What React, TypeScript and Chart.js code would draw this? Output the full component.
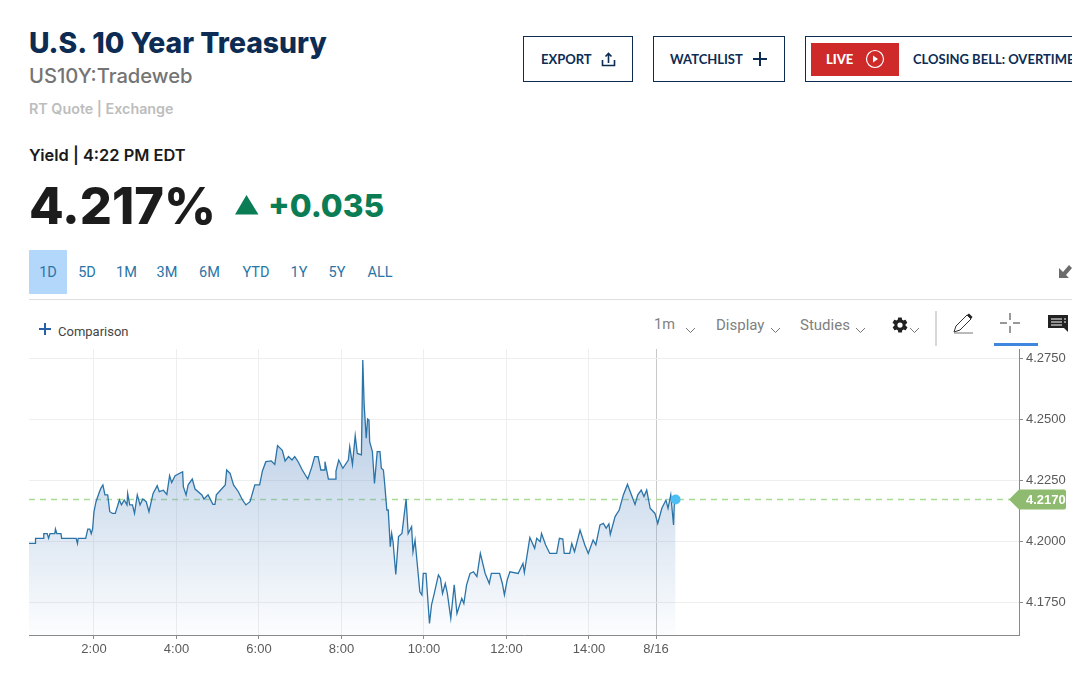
import React, { useEffect, useRef } from "react";
import { Chart, registerables } from "chart.js";

Chart.register(...registerables);

const minutes = [25,35,35,46,47,52,54,56,63,64,66,72,73,94,96,97,108,111,114,116,118,120,123,128,130,133,136,140,143,147,151,157,160,164,168,169,172,176,179,183,187,191,196,200,206,212,215,221,226,230,233,238,249,250,254,257,263,267,277,280,286,293,296,298,303,311,313,318,323,330,336,341,347,354,361,365,370,378,383,387,394,398,403,408,412,417,423,431,437,441,446,450,455,456,461,471,472,476,482,490,492,496,500,503,509,511,513,516,518,520,521,525,528,532,536,538,541,543,546,548,551,553,555,559,563,568,574,577,582,584,587,594,597,599,603,608,611,615,621,624,627,631,634,639,644,648,655,658,662,667,672,677,682,689,695,698,710,714,717,721,725,737,744,746,754,761,764,769,771,777,783,793,797,802,804,812,815,819,827,834,839,846,850,856,861,865,869,871,878,884,890,896,901,907,911,916,920,924,929,936,940,946,952,955,959,963,964,966];
const yields = [4.1990,4.1990,4.2011,4.2011,4.2030,4.2030,4.2011,4.2030,4.2030,4.2049,4.2030,4.2030,4.2011,4.2011,4.1990,4.2011,4.2011,4.2049,4.2049,4.2030,4.2049,4.2120,4.2161,4.2202,4.2216,4.2230,4.2189,4.2189,4.2120,4.2113,4.2113,4.2168,4.2148,4.2168,4.2148,4.2195,4.2148,4.2148,4.2113,4.2189,4.2148,4.2172,4.2161,4.2120,4.2195,4.2227,4.2202,4.2208,4.2191,4.2268,4.2240,4.2268,4.2284,4.2223,4.2189,4.2230,4.2254,4.2213,4.2189,4.2172,4.2189,4.2150,4.2150,4.2189,4.2205,4.2230,4.2291,4.2277,4.2230,4.2202,4.2168,4.2148,4.2161,4.2230,4.2230,4.2287,4.2325,4.2328,4.2314,4.2391,4.2372,4.2328,4.2346,4.2332,4.2346,4.2325,4.2291,4.2254,4.2305,4.2346,4.2346,4.2291,4.2291,4.2325,4.2254,4.2254,4.2287,4.2332,4.2298,4.2332,4.2387,4.2314,4.2432,4.2359,4.2353,4.2742,4.2558,4.2421,4.2500,4.2496,4.2407,4.2366,4.2236,4.2366,4.2366,4.2298,4.2291,4.2230,4.2127,4.2127,4.1977,4.2031,4.1997,4.1863,4.2018,4.2031,4.2172,4.2031,4.2059,4.1956,4.2004,4.1792,4.1779,4.1867,4.1867,4.1662,4.1738,4.1785,4.1861,4.1847,4.1785,4.1826,4.1785,4.1683,4.1820,4.1703,4.1765,4.1744,4.1820,4.1867,4.1874,4.1854,4.1949,4.1867,4.1826,4.1867,4.1867,4.1826,4.1779,4.1840,4.1874,4.1867,4.1908,4.1871,4.2014,4.1970,4.2011,4.1997,4.2031,4.1984,4.1949,4.1949,4.2011,4.2008,4.1949,4.1949,4.1990,4.1956,4.2045,4.1984,4.1949,4.2004,4.1984,4.2066,4.2072,4.2052,4.2070,4.2027,4.2100,4.2127,4.2189,4.2232,4.2195,4.2150,4.2189,4.2209,4.2182,4.2209,4.2134,4.2113,4.2072,4.2134,4.2168,4.2134,4.2189,4.2066,4.2148,4.2170];

const lastPrice = 4.217;
const xTickValues = [120, 240, 360, 480, 600, 720, 840, 937.5];
const xTickLabels = ["2:00", "4:00", "6:00", "8:00", "10:00", "12:00", "14:00", "8/16"];
const yTickValues = [4.175, 4.2, 4.225, 4.25, 4.275];
const rangeLabels = ["1D", "5D", "1M", "3M", "6M", "YTD", "1Y", "5Y", "ALL"];
const rangeCentres = [48, 87, 126.5, 167, 209.5, 256, 299, 337, 380];

const NAVY = "#0c2c54";
const uiFont = "Lato, 'Open Sans', sans-serif";
const wideFont = "Inter, 'Open Sans', sans-serif";

function T(p: { x: number; y: number; s: number; c: string; w?: number; f?: string; children: React.ReactNode; center?: boolean; ls?: number }) {
  return (
    <div style={{ position: "absolute", left: p.x, top: p.y, transform: p.center ? "translate(-50%,-50%)" : "translateY(-50%)", fontSize: p.s, color: p.c, fontWeight: p.w ?? 400, fontFamily: p.f ?? uiFont, whiteSpace: "nowrap", lineHeight: 1, letterSpacing: p.ls ?? 0 }}>
      {p.children}
    </div>
  );
}

function Box(p: { x: number; y: number; w: number; h: number; border?: string; bg?: string }) {
  return <div style={{ position: "absolute", left: p.x, top: p.y, width: p.w, height: p.h, boxSizing: "border-box", border: p.border, background: p.bg }} />;
}

function Icon(p: { x: number; y: number; w: number; h: number; children: React.ReactNode; vb?: string }) {
  return (
    <svg style={{ position: "absolute", left: p.x, top: p.y, overflow: "hidden" }} width={p.w} height={p.h} viewBox={p.vb ?? `0 0 ${p.w} ${p.h}`}>
      {p.children}
    </svg>
  );
}

const Chevron = ({ x, y }: { x: number; y: number }) => (
  <Icon x={x} y={y} w={11} h={7}>
    <path d="M1 1 L5.5 5.5 L10 1" fill="none" stroke="#777" strokeWidth="1" />
  </Icon>
);

const priceTag = {
  id: "priceTag",
  afterDraw(chart: any) {
    const { ctx, scales } = chart;
    const py = scales.y.getPixelForValue(lastPrice);
    const right = chart.chartArea.right;
    ctx.save();
    ctx.fillStyle = "#8fbb70";
    ctx.beginPath();
    const l = right - 10, r = right + 47;
    ctx.moveTo(l, py);
    ctx.lineTo(l + 10, py - 10);
    ctx.lineTo(r - 2, py - 10);
    ctx.quadraticCurveTo(r, py - 10, r, py - 8);
    ctx.lineTo(r, py + 8);
    ctx.quadraticCurveTo(r, py + 10, r - 2, py + 10);
    ctx.lineTo(l + 10, py + 10);
    ctx.closePath();
    ctx.fill();
    ctx.fillStyle = "#ffffff";
    ctx.font = "bold 13px 'Liberation Sans', Arial, sans-serif";
    ctx.textBaseline = "middle";
    ctx.textAlign = "left";
    ctx.fillText(lastPrice.toFixed(4), right + 7, py + 0.5);
    ctx.restore();
  },
};

export default function App() {
  const ref = useRef<HTMLCanvasElement | null>(null);

  useEffect(() => {
    document.body.style.margin = "0";
    const series = minutes.map((m, i) => ({ x: m, y: yields[i] }));
    const last = series[series.length - 1];
    const chart = new Chart(ref.current as HTMLCanvasElement, {
      type: "line",
      data: {
        datasets: [
          {
            data: series,
            borderColor: "#2b74a8",
            borderWidth: 1.3,
            pointRadius: 0,
            tension: 0,
            fill: "start",
            order: 2,
            backgroundColor: (c: any) => {
              const a = c.chart.chartArea;
              if (!a) return "transparent";
              const g = c.chart.ctx.createLinearGradient(0, a.top + 10, 0, a.bottom);
              g.addColorStop(0, "rgba(118,158,205,0.62)");
              g.addColorStop(1, "rgba(118,158,205,0.02)");
              return g;
            },
          },
          {
            data: [{ x: 25.5, y: lastPrice }, { x: 1465.5, y: lastPrice }],
            borderColor: "#a8dc90",
            backgroundColor: "#a8dc90",
            borderWidth: 1.6,
            borderDash: [6, 5],
            pointRadius: 0,
            fill: false,
            order: 3,
          },
          {
            data: [last],
            pointRadius: 5,
            pointBackgroundColor: "#4cc0f5",
            pointBorderWidth: 0,
            showLine: false,
            order: 1,
            clip: false,
          } as any,
        ],
      },
      options: {
        animation: false,
        responsive: false,
        devicePixelRatio: 1,
        parsing: false,
        normalized: true,
        layout: { padding: 0, autoPadding: false },
        plugins: { legend: { display: false }, tooltip: { enabled: false } },
        scales: {
          x: {
            type: "linear",
            min: 25.5,
            max: 1465.5,
            afterBuildTicks: (s: any) => { s.ticks = xTickValues.map((value) => ({ value })); },
            afterFit: (s: any) => { s.height = 38; s.paddingLeft = 0; s.paddingRight = 0; },
            border: { color: "#8a8a8a", width: 1 },
            grid: {
              color: (c: any) => (c.tick && c.tick.value === 937.5 ? "#c8c8c8" : "#eeeeee"),
              tickColor: "#8a8a8a",
              tickLength: 4,
            },
            ticks: {
              autoSkip: false,
              maxRotation: 0,
              padding: 3,
              color: "#5a5a5a",
              font: { family: "'Liberation Sans', Arial, sans-serif", size: 13 },
              callback: (v: any) => xTickLabels[xTickValues.indexOf(Number(v))] ?? "",
            },
          },
          y: {
            type: "linear",
            position: "right",
            min: 4.16148,
            max: 4.27869,
            afterBuildTicks: (s: any) => { s.ticks = yTickValues.map((value) => ({ value })); },
            afterFit: (s: any) => { s.width = 53; s.paddingTop = 0; s.paddingBottom = 0; },
            border: { color: "#8a8a8a", width: 1 },
            grid: { color: "#eeeeee", tickColor: "#8a8a8a", tickLength: 4 },
            ticks: {
              padding: 3,
              color: "#5a5a5a",
              font: { family: "'Liberation Sans', Arial, sans-serif", size: 13 },
              callback: (v: any) => Number(v).toFixed(4),
            },
          },
        },
      } as any,
      plugins: [priceTag],
    });
    return () => chart.destroy();
  }, []);

  return (
    <div style={{ position: "absolute", left: 0, top: 0, width: 1072, height: 673, overflow: "hidden", background: "#fff" }}>
      <T x={29} y={43} s={28.3} c={NAVY} w={800} f={wideFont}>U.S. 10 Year Treasury</T>
      <T x={29} y={76} s={20.2} c="#747474" w={500} f={wideFont}>US10Y:Tradeweb</T>
      <T x={29} y={109} s={14.3} c="#bdbdbd" w={600} f={wideFont}>RT Quote | Exchange</T>
      <T x={29} y={155} s={16.4} c="#1a1a1a" w={600} f={wideFont}>Yield | 4:22 PM EDT</T>
      <T x={29} y={206} s={50.5} c="#1c1c1c" w={800} f={wideFont}>4.217%</T>
      <Icon x={235} y={195} w={24} h={20}><path d="M11.5 0 L23.5 19.5 L0 19.5 Z" fill="#0b7d55" /></Icon>
      <T x={268} y={206} s={31.7} c="#0b7d55" w={800} f={wideFont}>+0.035</T>

      <Box x={523} y={36} w={110} h={46} border={`1px solid ${NAVY}`} />
      <T x={541} y={59} s={13} c={NAVY} w={700}>EXPORT</T>
      <Icon x={601} y={52} w={15} h={15}>
        <path d="M7.5 11 V2 M4.5 4.5 L7.5 1.5 L10.5 4.5 M1.5 8 V13.5 H13.5 V8" fill="none" stroke={NAVY} strokeWidth="1.6" />
      </Icon>
      <Box x={653} y={36} w={132} h={46} border={`1px solid ${NAVY}`} />
      <T x={670} y={59} s={13} c={NAVY} w={700}>WATCHLIST</T>
      <Icon x={753} y={52} w={14} h={14}><path d="M7 0 V14 M0 7 H14" stroke={NAVY} strokeWidth="2" /></Icon>
      <Box x={805} y={36} w={280} h={46} border={`1px solid ${NAVY}`} />
      <Box x={811} y={43} w={88} h={33} bg="#cf2a2a" />
      <T x={826} y={59} s={13} c="#fff" w={900}>LIVE</T>
      <Icon x={865} y={49} w={20} h={20}>
        <circle cx="10" cy="10" r="8.5" fill="none" stroke="#fff" strokeWidth="1.2" />
        <path d="M8 6.5 L13 10 L8 13.5 Z" fill="#fff" />
      </Icon>
      <T x={913} y={59} s={13} c={NAVY} w={700}>CLOSING BELL: OVERTIME</T>

      <Box x={29} y={250} w={38} h={44} bg="#b3d7fb" />
      {rangeLabels.map((label, i) => (
        <T key={label} x={rangeCentres[i]} y={273} s={14.5} c="#2a74a6" center f="Roboto, sans-serif">{label}</T>
      ))}
      <Box x={29} y={299} w={1043} h={1} bg="#dedede" />
      <Icon x={1058} y={262} w={14} h={17}>
        <path d="M1 6 V16 H11 L8 13 L14 6 L11 3 L5 10 Z" fill="#6b6b6b" />
      </Icon>

      <Icon x={39} y={323} w={12} h={12}><path d="M6 0 V12 M0 6 H12" stroke="#2860a8" strokeWidth="2" /></Icon>
      <T x={58} y={331} s={13} c="#444" f="Roboto, sans-serif">Comparison</T>

      <T x={654} y={325} s={14.5} c="#808080" f="Roboto, sans-serif">1m</T>
      <Chevron x={685} y={327} />
      <T x={716} y={325} s={15} c="#808080" f="Roboto, sans-serif">Display</T>
      <Chevron x={770} y={327} />
      <T x={800} y={325} s={15} c="#808080" f="Roboto, sans-serif">Studies</T>
      <Chevron x={855} y={327} />
      <Icon x={891} y={316} w={18} h={18} vb="0 0 24 24">
        <path fill="#222" d="M19.4 13c.1-.3.1-.7.1-1s0-.7-.1-1l2.1-1.6c.2-.2.2-.4.1-.6l-2-3.5c-.1-.2-.4-.3-.6-.2l-2.5 1c-.5-.4-1.100-.7-1.700-1l-.4-2.600c0-.3-.2-.5-.5-.5h-4c-.3 0-.5.2-.5.5l-.4 2.600c-.6.3-1.200.6-1.700 1l-2.500-1c-.2-.1-.5 0-.6.2l-2 3.500c-.1.2-.1.4.1.6L4.600 11c-.1.3-.1.7-.1 1s0 .7.1 1l-2.100 1.600c-.2.2-.2.4-.1.6l2 3.500c.1.2.4.3.6.2l2.500-1c.5.4 1.100.7 1.700 1l.4 2.600c0 .3.2.5.5.5h4c.3 0 .5-.2.5-.5l.4-2.600c.6-.3 1.200-.6 1.700-1l2.500 1c.2.1.5 0 .6-.2l2-3.500c.1-.2.1-.4-.1-.6L19.400 13zM12 15.500a3.500 3.500 0 1 1 0-7 3.500 3.500 0 0 1 0 7z" />
      </Icon>
      <Chevron x={909} y={327} />
      <Box x={935} y={311} w={2} h={35} bg="#d8d8d8" />
      <Icon x={953} y={313} w={21} h={21}>
        <path d="M1 19 L3 13 L14 2 L18 6 L7 17 Z" fill="none" stroke="#333" strokeWidth="1" />
        <path d="M14 2 L16 0.500 L19.500 4 L18 6 Z" fill="#222" />
        <path d="M1 20 H20" stroke="#777" strokeWidth="1" />
      </Icon>
      <Icon x={1000} y={313} w={20} h={20}>
        <path d="M10 0 V7 M10 13 V20 M0 10 H7 M13 10 H20" stroke="#333" strokeWidth="1" />
      </Icon>
      <Box x={994} y={343} w={44} h={2.5} bg="#3f86de" />
      <Icon x={1048} y={315} w={20} h={18}>
        <path d="M0 0 H20 V17 L16 13 H0 Z" fill="#222" />
        <path d="M3 4 H14 M16 4 H18 M3 7 H14 M16 7 H18 M3 10 H14" stroke="#fff" strokeWidth="1" />
      </Icon>

      <canvas ref={ref} width={1043} height={324} style={{ position: "absolute", left: 29, top: 349, width: 1043, height: 324 }} />
    </div>
  );
}
